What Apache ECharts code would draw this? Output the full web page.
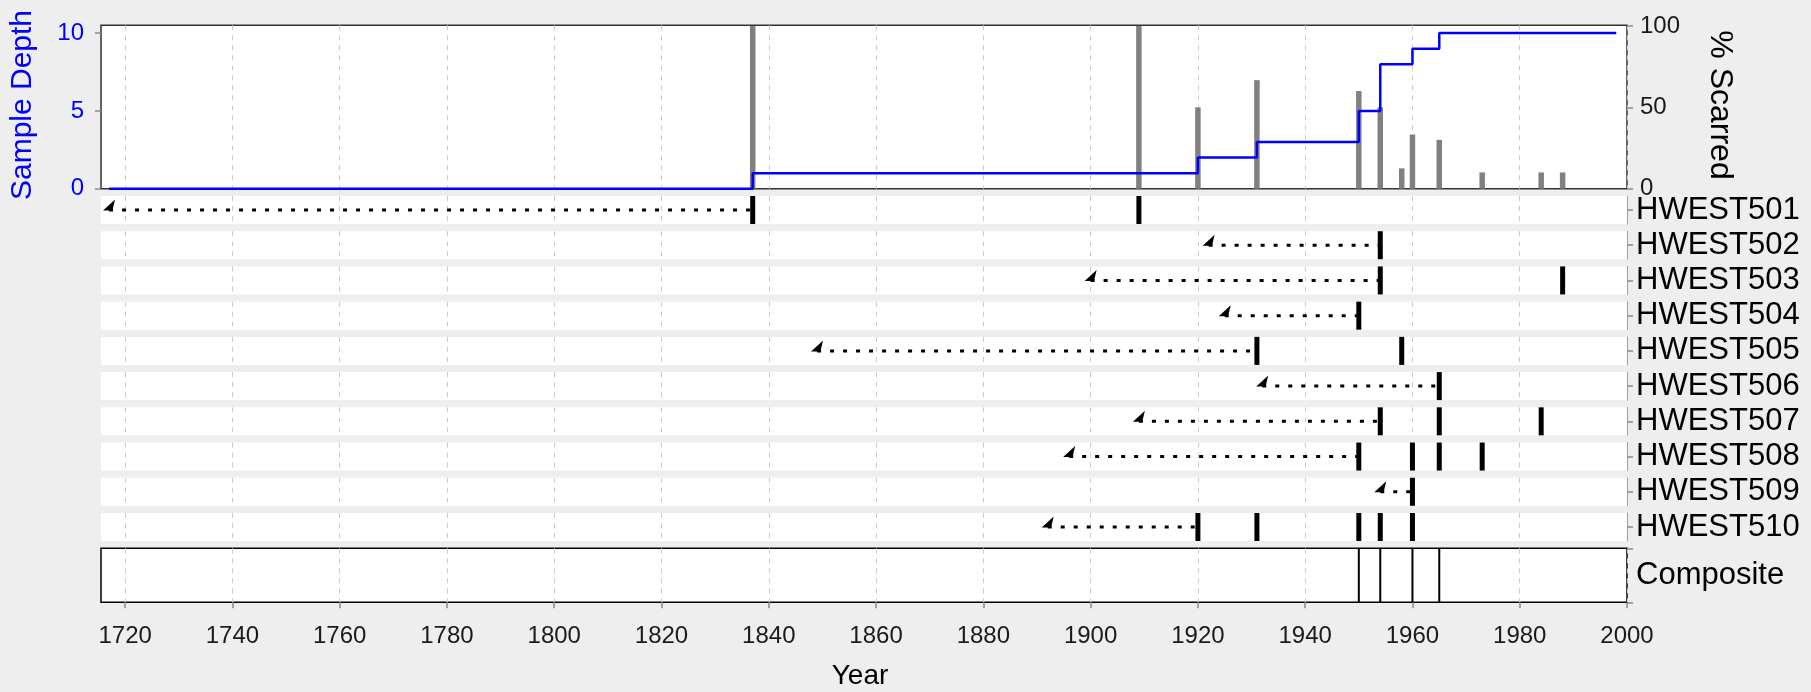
<!DOCTYPE html>
<html><head><meta charset="utf-8">
<script src="https://cdn.jsdelivr.net/npm/echarts@6/dist/echarts.min.js"></script>
<style>html,body{margin:0;padding:0;background:#eeeeee;}#c{width:1811px;height:692px;}</style>
</head><body><div id="c"></div>
<script>
// ---- data ----
const trees = ['HWEST501','HWEST502','HWEST503','HWEST504','HWEST505','HWEST506','HWEST507','HWEST508','HWEST509','HWEST510'];
const innerYears = [1717, 1922, 1900, 1925, 1849, 1932, 1909, 1896, 1954, 1892];
const scarYears = [
  [1837, 1909],
  [1954],
  [1954, 1988],
  [1950],
  [1931, 1958],
  [1965],
  [1954, 1965, 1984],
  [1950, 1960, 1965, 1973],
  [1960],
  [1920, 1931, 1950, 1954, 1960]
];
const depthYears  = [1717, 1837, 1920, 1931, 1950, 1954, 1960, 1965, 1998];
const depthValues = [0, 1, 2, 3, 5, 8, 9, 10, 10];
const pctYears  = [1837, 1909, 1920, 1931, 1950, 1954, 1958, 1960, 1965, 1973, 1984, 1988];
const pctValues = [100, 100, 50, 66.7, 60, 50, 12.5, 33.3, 30, 10, 10, 10];
const compositeYears = [1950, 1954, 1960, 1965];
const xTicks = [1720,1740,1760,1780,1800,1820,1840,1860,1880,1900,1920,1940,1960,1980,2000];
const depthTicks = [0, 5, 10];
const pctTicks = [0, 50, 100];

// ---- layout / style ----
const FONT = '"Liberation Sans", Arial, Helvetica, sans-serif';
const X_MIN = 1715.5, X_MAX = 2000;
const LEFT = 101, WIDTH = 1526;
const ROW_TOP0 = 196, ROW_PITCH = 35.22, ROW_H = 28;
const TICK_COLOR = '#8a8a8a';
const plain = v => String(v);

const grids = [], xAxes = [], yAxes = [], series = [];

function makeX(gi, showLabels) {
  return {
    type: 'value', gridIndex: gi, min: X_MIN, max: X_MAX,
    axisLine: { show: false },
    axisTick: { show: showLabels, customValues: xTicks, length: 6, lineStyle: { color: TICK_COLOR, width: 1.5 } },
    axisLabel: { show: showLabels, customValues: xTicks, formatter: plain, margin: 22, fontSize: 24, color: '#1a1a1a', fontFamily: FONT },
    splitLine: { show: true, lineStyle: { color: '#cccccc', type: [5, 5], width: 1 } }
  };
}

// top panel
grids.push({ left: LEFT, top: 25.3, width: WIDTH, height: 163.4, show: true, backgroundColor: '#ffffff', borderColor: '#333333', borderWidth: 1.5 });
xAxes.push(makeX(0, false));
yAxes.push({
  type: 'value', gridIndex: 0, min: 0, max: 10.5, position: 'left',
  axisLine: { show: false },
  axisTick: { show: true, customValues: depthTicks, length: 6, lineStyle: { color: TICK_COLOR, width: 1.5 } },
  axisLabel: { customValues: depthTicks, formatter: plain, color: '#0000ff', fontSize: 24, margin: 17, fontFamily: FONT },
  splitLine: { show: false }
});
yAxes.push({
  type: 'value', gridIndex: 0, min: 0, max: 100.4, position: 'right',
  axisLine: { show: false },
  axisTick: { show: true, customValues: pctTicks, length: 6, lineStyle: { color: TICK_COLOR, width: 1.5 } },
  axisLabel: { customValues: pctTicks, formatter: plain, color: '#1a1a1a', fontSize: 24, margin: 13, fontFamily: FONT },
  splitLine: { show: false }
});
series.push({
  type: 'bar', xAxisIndex: 0, yAxisIndex: 1, barWidth: 5.5, silent: true,
  itemStyle: { color: '#808080', opacity: 1 },
  data: pctYears.map((y, i) => [y, pctValues[i]])
});
series.push({
  type: 'line', xAxisIndex: 0, yAxisIndex: 0, step: 'end', symbol: 'none', silent: true,
  lineStyle: { color: '#0000ff', width: 2.5 },
  data: depthYears.map((y, i) => [y, depthValues[i]])
});

// tree rows
trees.forEach((name, i) => {
  const gi = i + 1;          // grid / xAxis index
  const yi = i + 2;          // yAxis index (top panel has two y axes)
  grids.push({ left: LEFT, top: ROW_TOP0 + i * ROW_PITCH, width: WIDTH, height: ROW_H, show: true, backgroundColor: '#ffffff', borderWidth: 0 });
  xAxes.push(makeX(gi, false));
  yAxes.push({
    type: 'category', gridIndex: gi, data: [name], position: 'right',
    axisLine: { show: true, lineStyle: { color: '#a0a0a0', width: 1 } },
    axisTick: { show: true, alignWithLabel: true, length: 6, lineStyle: { color: TICK_COLOR, width: 1.5 } },
    axisLabel: { fontSize: 31, color: '#000000', margin: 9, fontFamily: FONT },
    splitLine: { show: false }
  });
  series.push({
    type: 'line', xAxisIndex: gi, yAxisIndex: yi, symbol: 'none', silent: true,
    lineStyle: { color: '#000000', width: 3, type: [4, 9] },
    data: [[innerYears[i], 0], [scarYears[i][0], 0]]
  });
  series.push({
    type: 'scatter', xAxisIndex: gi, yAxisIndex: yi, symbol: 'rect', symbolSize: [5, ROW_H], silent: true,
    itemStyle: { color: '#000000', opacity: 1 },
    data: scarYears[i].map(y => [y, 0])
  });
  series.push({
    type: 'scatter', xAxisIndex: gi, yAxisIndex: yi, symbol: 'path://M0,30 L27,0 L21,30 Z',
    symbolSize: [12, 11], symbolOffset: [0, -5], silent: true,
    itemStyle: { color: '#000000', opacity: 1 },
    data: [[innerYears[i], 0]]
  });
});

// composite
const cg = trees.length + 1;
const cy = trees.length + 2;
grids.push({ left: LEFT, top: 548.3, width: WIDTH, height: 54, show: true, backgroundColor: '#ffffff', borderColor: '#000000', borderWidth: 1.5 });
xAxes.push(makeX(cg, true));
yAxes.push({
  type: 'category', gridIndex: cg, data: ['Composite'], position: 'right',
  axisLine: { show: false },
  axisTick: { show: true, alignWithLabel: false, length: 6, lineStyle: { color: TICK_COLOR, width: 1.5 } },
  axisLabel: { fontSize: 31, color: '#000000', margin: 9, fontFamily: FONT },
  splitLine: { show: false }
});
series.push({
  type: 'scatter', xAxisIndex: cg, yAxisIndex: cy, symbol: 'rect', symbolSize: [2, 54], silent: true,
  itemStyle: { color: '#000000', opacity: 1 },
  data: compositeYears.map(y => [y, 0])
});

const chart = echarts.init(document.getElementById('c'), null, { renderer: 'canvas' });
chart.setOption({
  animation: false,
  backgroundColor: '#eeeeee',
  grid: grids, xAxis: xAxes, yAxis: yAxes, series: series,
  graphic: [
    { type: 'text', x: 23, y: 105, rotation: Math.PI / 2,
      style: { text: 'Sample Depth', fill: '#0000ff', fontSize: 30, fontFamily: FONT, align: 'center', verticalAlign: 'middle' } },
    { type: 'text', x: 1720, y: 105, rotation: -Math.PI / 2,
      style: { text: '% Scarred', fill: '#000000', fontSize: 32, fontFamily: FONT, align: 'center', verticalAlign: 'middle' } },
    { type: 'text', x: 860, y: 676,
      style: { text: 'Year', fill: '#000000', fontSize: 28, fontFamily: FONT, align: 'center', verticalAlign: 'middle' } }
  ]
});
</script>
</body></html>
